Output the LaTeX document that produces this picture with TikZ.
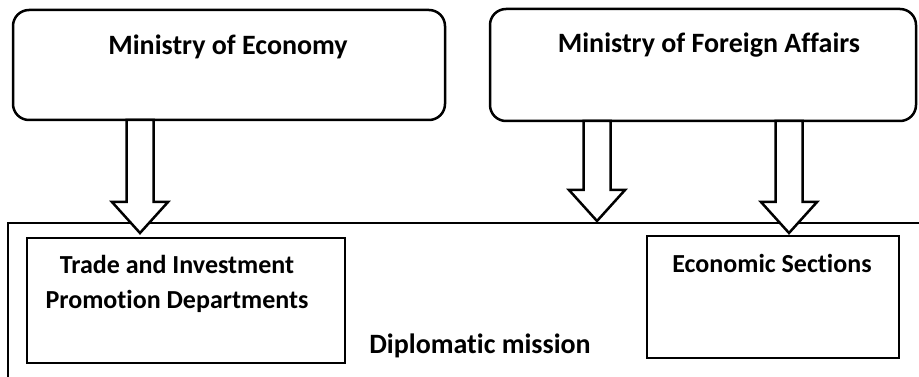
\documentclass[tikz,border=0pt]{standalone}
\usepackage{fontspec}
\setmainfont{Carlito}[Ligatures=NoCommon]
\usetikzlibrary{calc}

\tikzset{
  ministry/.style={draw, line width=2.5pt, rounded corners=16pt, inner sep=0pt},
  unitbox/.style={draw, line width=2.5pt, inner sep=0pt},
  bigtext/.style={font=\bfseries\fontsize{28}{34}\selectfont, inner sep=0pt, anchor=base},
  smalltext/.style={font=\bfseries\fontsize{26}{35}\selectfont, inner sep=0pt, anchor=base, align=center},
  blockarrow/.style={draw, line width=2.5pt, fill=white, line join=miter},
}

% Block-Pfeil von #1 (oben) nach #2 (Spitze)
\newcommand{\blockarrow}[2]{%
  \draw[blockarrow] let \p1=(#1), \p2=(#2) in
    (\x1-13.5pt,\y1) -- (\x1-13.5pt,\y2+31pt) -- (\x1-28pt,\y2+31pt) -- (\x1,\y2)
    -- (\x1+28pt,\y2+31pt) -- (\x1+13.5pt,\y2+31pt) -- (\x1+13.5pt,\y1) -- cycle;}

\begin{document}
\begin{tikzpicture}[x=1pt, y=-1pt]
  \useasboundingbox (0,0) rectangle (919,377);
  \clip (0,0) rectangle (919,377);

  % Ministerien
  \node[ministry, minimum width=432pt, minimum height=110pt] (econ) at (229,65) {};
  \node[ministry, minimum width=426pt, minimum height=112pt] (foreign) at (703,65) {};
  \node[bigtext] (econlabel) at (228,55) {Ministry of Economy};
  \node[bigtext] (foreignlabel) at (709,53) {Ministry of Foreign Affairs};

  % Vertretung im Ausland
  \node[unitbox, minimum width=932pt, minimum height=177pt] (mission) at (474,311.5) {};
  \node[unitbox, minimum width=318pt, minimum height=125pt] (trade) at (186,300.5) {};
  \node[unitbox, minimum width=252pt, minimum height=122pt] (econsec) at (773,297) {};
  \node[smalltext] (tradelabel) at (177,308) {Trade and Investment\\Promotion Departments};
  \node[smalltext] (econseclabel) at (772,272) {Economic Sections};
  \node[bigtext] (missionlabel) at (480,353) {Diplomatic mission};

  % Pfeile
  \coordinate (econout) at (140,120);
  \coordinate (tradein) at (140,233);
  \coordinate (foreignout) at (597,121);
  \coordinate (missionin) at (597,221);
  \coordinate (sectionout) at (789,121);
  \coordinate (econsecin) at (789,233);
  \blockarrow{econout}{tradein}
  \blockarrow{foreignout}{missionin}
  \blockarrow{sectionout}{econsecin}
\end{tikzpicture}
\end{document}
